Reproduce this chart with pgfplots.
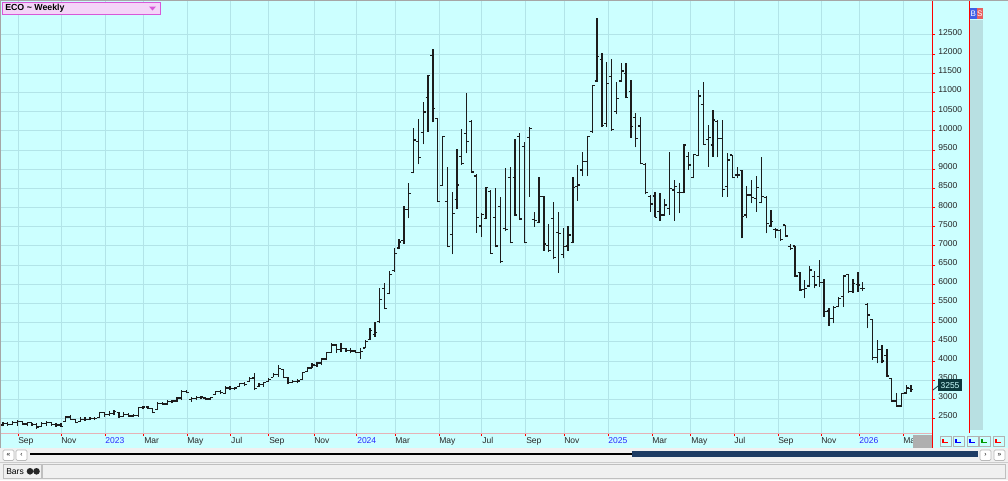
\documentclass[border=0pt]{standalone}
\usepackage{fontspec}
\setmainfont{Liberation Sans}
\usepackage{pgfplots}
\pgfplotsset{compat=1.18}
\usepackage{pgfplotstable}
\definecolor{bgcyan}{RGB}{204,255,255}
\definecolor{gridc}{RGB}{178,228,232}
\definecolor{barcol}{RGB}{28,28,28}
\definecolor{pinkl}{RGB}{230,178,182}
\definecolor{yearblue}{RGB}{40,40,255}
\definecolor{winbg}{RGB}{240,240,240}
\definecolor{stripc}{RGB}{184,224,226}
\definecolor{ecofill}{RGB}{244,212,248}
\definecolor{ecoborder}{RGB}{216,88,216}
\definecolor{bblue}{RGB}{64,96,230}
\definecolor{sred}{RGB}{232,96,96}
\definecolor{darkteal}{RGB}{12,56,60}
\definecolor{thumbc}{RGB}{30,60,100}
\pgfdeclareplotmark{openl}{\pgfpathmoveto{\pgfqpoint{-\pgfplotmarksize}{0pt}}\pgfpathlineto{\pgfqpoint{0pt}{0pt}}\pgfusepathqstroke}
\pgfdeclareplotmark{closer}{\pgfpathmoveto{\pgfqpoint{0pt}{0pt}}\pgfpathlineto{\pgfqpoint{\pgfplotmarksize}{0pt}}\pgfusepathqstroke}
\pgfplotstableread{
t o h l c
0 2330 2417 2295 2380
1 2380 2417 2313 2340
2 2340 2434 2330 2400
3 2400 2452 2313 2420
4 2420 2443 2330 2360
5 2360 2417 2295 2390
6 2390 2391 2304 2340
7 2340 2374 2226 2280
8 2300 2417 2295 2380
9 2380 2434 2313 2400
10 2400 2417 2313 2340
11 2340 2374 2287 2330
12 2330 2374 2287 2300
13 2420 2565 2417 2540
14 2540 2591 2461 2470
15 2470 2487 2374 2400
16 2420 2539 2417 2480
17 2480 2530 2443 2470
18 2470 2539 2452 2500
19 2500 2548 2461 2510
20 2520 2678 2504 2650
21 2650 2678 2548 2600
22 2600 2696 2574 2640
23 2640 2722 2591 2680
24 2660 2661 2522 2560
25 2560 2661 2548 2600
26 2600 2635 2548 2570
27 2570 2609 2539 2580
28 2580 2809 2548 2780
29 2780 2835 2748 2800
30 2800 2835 2748 2770
31 2760 2765 2635 2660
32 2730 2939 2722 2900
33 2900 2939 2852 2880
34 2880 2983 2852 2950
35 2950 2983 2896 2960
36 2960 3070 2939 3040
37 3040 3244 2983 3200
38 3200 3244 3157 3180
39 3000 3070 2939 3030
40 3030 3087 2983 3050
41 3050 3087 3000 3060
42 3040 3052 2983 3010
43 3010 3070 2983 3050
44 3130 3226 3113 3200
45 3200 3244 3139 3180
46 3150 3348 3139 3300
47 3300 3348 3244 3280
48 3280 3330 3244 3300
49 3340 3435 3330 3420
50 3420 3461 3348 3380
51 3470 3574 3461 3550
52 3560 3679 3244 3280
53 3340 3418 3330 3380
54 3380 3461 3330 3440
55 3470 3548 3461 3520
56 3580 3679 3574 3650
57 3650 3896 3592 3800
58 3780 3783 3548 3580
59 3580 3592 3400 3440
60 3440 3505 3418 3470
61 3460 3522 3418 3480
62 3510 3722 3505 3700
63 3730 3853 3722 3820
64 3820 3940 3809 3900
65 3880 3983 3853 3950
66 3950 4070 3896 4050
67 4050 4244 4027 4220
68 4230 4462 4218 4420
69 4420 4444 4218 4300
70 4300 4462 4244 4320
71 4320 4331 4244 4280
72 4280 4331 4200 4260
73 4260 4288 4200 4230
74 4230 4331 4044 4250
75 4340 4549 4331 4500
76 4560 4850 4549 4800
77 4700 5027 4636 4750
78 5027 5896 5000 5609
79 5896 6026 5348 5374
80 5766 6348 5740 6261
81 6360 6939 6330 6800
82 6950 7173 6913 7100
83 7150 8042 7052 7950
84 7950 8650 7721 8370
85 8920 10067 8894 9763
86 9720 10310 9129 9311
87 9954 10762 9650 10493
88 10875 11466 9980 11449
89 11962 12135 10224 10589
90 10320 10330 8138 8155
91 8580 9867 8564 9850
92 8155 9068 6965 6980
93 7303 8399 6782 7851
94 8216 9537 7955 8590
95 9329 10041 9111 9155
96 9937 10997 9415 9720
97 10250 10284 8911 8930
98 8824 8868 7347 7738
99 7520 7851 7243 7820
100 7720 8546 7695 8529
101 8416 8459 6791 6808
102 7738 8503 6965 7000
103 8024 8268 6547 6600
104 7460 9024 7380 7420
105 8781 9050 7069 7086
106 8781 9780 7781 7807
107 9850 9937 7677 7700
108 9589 9720 7069 7086
109 9823 10093 8286 10060
110 7695 7894 7503 7660
111 7610 8790 7590 8286
112 8286 8300 6878 7051
113 7008 7573 6852 6890
114 7720 8155 6652 6700
115 7347 7894 6304 7330
116 6782 7460 6678 6982
117 7000 7529 6878 7286
118 7095 8807 7069 8529
119 8546 9111 8181 8590
120 8980 9459 8824 9198
121 9198 9867 8824 9850
122 9980 11197 9954 11179
123 11300 12935 11284 11935
124 11866 12040 10111 10150
125 10200 11805 10111 11240
126 11414 11866 10006 10030
127 10502 11284 10432 10849
128 11301 11762 11284 11562
129 11501 11762 10849 10866
130 11023 11327 9824 10111
131 10354 10458 9572 9806
132 10128 10354 9129 9150
133 9120 9150 8347 8400
134 8286 8321 7895 8095
135 8300 8416 7747 7750
136 7900 8373 7652 7808
137 7808 8216 7782 8069
138 7982 9459 7808 8503
139 8460 8720 7660 8546
140 8390 8633 7852 8390
141 8390 9650 8373 9630
142 9328 9459 8981 9111
143 8790 9398 8764 9380
144 9360 11066 9346 10910
145 10693 11284 9633 9650
146 9780 10154 9068 9824
147 9633 10545 9328 10284
148 10241 10284 9311 9807
149 9807 10284 8286 8477
150 8547 9415 8286 9242
151 9372 9380 8764 8790
152 8851 9050 8764 8851
153 8964 8970 7200 7764
154 7808 8564 7721 8329
155 8329 8720 8112 8268
156 8242 8824 7895 8529
157 8129 9311 8112 8286
158 8268 8303 7330 7591
159 7521 7938 7504 7634
160 7434 7460 7200 7417
161 7400 7434 7139 7174
162 7547 7550 7243 7261
163 6982 7052 6896 6939
164 7000 7010 6200 6218
165 6305 6331 5835 5853
166 5870 6113 5635 5896
167 5957 6478 5940 6374
168 6200 6357 5896 5983
169 6200 6635 5940 6050
170 6040 6131 5157 5300
171 5305 5374 4914 5114
172 5114 5435 4983 5400
173 5418 5678 5400 5635
174 5678 6243 5418 6217
175 6261 6270 5783 5809
176 5809 6130 5783 6026
177 6000 6330 5809 5983
178 5896 6070 5835 5896
179 5480 5505 4853 5200
180 5088 5096 4027 4100
181 4100 4549 3940 4300
182 4300 4418 3940 4000
183 4150 4305 3593 3610
184 3549 3560 2941 2960
185 2960 3175 2810 2830
186 2830 3175 2810 3150
187 3170 3375 3150 3300
188 3280 3375 3202 3255
}\ohlc
\begin{document}
\begin{tikzpicture}
\useasboundingbox (0,0) rectangle (756pt,-360pt);
\begin{scope}[x=0.75pt,y=-0.75pt]
 \fill[winbg] (0,0) rectangle (1008,480);
 \fill[bgcyan] (0,0) rectangle (1008,448);
 \fill[stripc] (970,20) rectangle (983,430);
\end{scope}
\begin{axis}[
  at={(0pt,0pt)}, anchor=north west,
  scale only axis, width=699pt, height=324.75pt,
  xmin=-0.621, xmax=192.34, ymin=2124, ymax=13412,
  axis line style={draw=none},
  grid=major, grid style={gridc, line width=0.75pt},
  xtick={3.11,12.01,21.12,29.19,38.10,47.20,55.07,64.39,73.29,81.16,90.27,99.17,108.28,116.15,125.26,134.37,142.44,151.35,160.46,169.36,177.23,186.34},
  xticklabels={Sep,Nov,\textcolor{yearblue}{2023},Mar,May,Jul,Sep,Nov,\textcolor{yearblue}{2024},Mar,May,Jul,Sep,Nov,\textcolor{yearblue}{2025},Mar,May,Jul,Sep,Nov,\textcolor{yearblue}{2026},Mar},
  ytick={2500,3000,...,12500},
  xtick pos=left, ytick pos=right, yticklabel pos=right,
  tick align=outside, major tick length=2.6pt,
  tick style={red, line width=0.75pt},
  ticklabel style={font=\fontsize{6.4}{7}\selectfont, text=black!85},
  xticklabel style={anchor=north west, inner sep=0pt, xshift=0pt, yshift=-0.6pt},
  yticklabel style={anchor=west, inner sep=0pt, xshift=2pt, yshift=1.9pt},
  /pgf/number format/assume math mode=true,
  /pgf/number format/set thousands separator={},
  scaled y ticks=false,
]
\addplot[draw=none, mark=none, forget plot,
  error bars/.cd, y dir=plus, y explicit, error mark=none,
  error bar style={draw=barcol, line width=0.95pt}]
  table[x=t, y=l, y error expr=\thisrow{h}-\thisrow{l}] {\ohlc};
\addplot[only marks, mark=openl, mark size=1.8pt, mark options={barcol, line width=0.95pt}]
  table[x=t, y=o] {\ohlc};
\addplot[only marks, mark=closer, mark size=1.8pt, mark options={barcol, line width=0.95pt}]
  table[x=t, y=c] {\ohlc};
\end{axis}
\begin{scope}[x=0.75pt,y=-0.75pt]
 % frame lines
 \draw[pinkl, line width=1.1pt] (0,433.5) -- (932,433.5);
 \draw[red, line width=0.9pt] (932.3,0) -- (932.3,448);
 \draw[red, line width=0.9pt] (969.3,0) -- (969.3,433);
 \draw[gray!70, line width=0.75pt] (0,0.5) -- (1008,0.5);
 \draw[gray!70, line width=0.75pt] (0.5,0) -- (0.5,448);
 \fill[gray!95!black!60] (913,434.5) rectangle (932,447.5);
 % title box
 \draw[fill=ecofill, draw=ecoborder, line width=0.75pt] (2.5,2.5) rectangle (160,14);
 \node[anchor=west, inner sep=0pt, font=\fontsize{6.6}{7}\selectfont\bfseries] at (5,8.3) {ECO \char"007E\ Weekly};
 \fill[ecoborder] (149,6.5) -- (156,6.5) -- (152.5,10.5) -- cycle;
 % B S
 \fill[bblue] (970,8) rectangle (976.5,19);
 \fill[sred] (976.5,8) rectangle (983,19);
 \node[white, inner sep=0pt, font=\fontsize{6}{6}\selectfont] at (973.2,13.5) {B};
 \node[white, inner sep=0pt, font=\fontsize{6}{6}\selectfont] at (979.8,13.5) {S};
 % last price label
 \draw[darkteal, line width=0.6pt] (933,390) -- (938,386);
 \fill[darkteal] (938,379) rectangle (962,391);
 \node[text=bgcyan, inner sep=0pt, font=\fontsize{6.4}{7}\selectfont] at (950,385.3) {3255};
 % small buttons right of date band
 \foreach \xa/\col in {940/red,953/blue,967/blue,979/green!60!black,993/red}{
   \draw[fill=bgcyan, draw=gray!60, line width=0.5pt] (\xa,436) rectangle ({\xa+11},446.5);
   \draw[\col, line width=0.8pt] ({\xa+3},439) -- ({\xa+3},442.5) -- ({\xa+8},442.5);
 }
 % scrollbar
 \foreach \xa/\g in {3/{\guillemotleft},16/{\guilsinglleft}}{
   \draw[fill=white, draw=gray!55, line width=0.5pt, rounded corners=1pt] (\xa,450) rectangle ({\xa+11},460.5);
   \node[inner sep=0pt, font=\fontsize{5}{5}\selectfont] at ({\xa+5.5},455) {\g};
 }
 \foreach \xa/\g in {980/{\guilsinglright},994/{\guillemotright}}{
   \draw[fill=white, draw=gray!55, line width=0.5pt, rounded corners=1pt] (\xa,450) rectangle ({\xa+11},460.5);
   \node[inner sep=0pt, font=\fontsize{5}{5}\selectfont] at ({\xa+5.5},455) {\g};
 }
 \draw[black, line width=1.6pt] (30,454) -- (632,454);
 \fill[thumbc] (631.7,451) rectangle (978,456.7);
 % status bar
 \draw[gray!40, line width=0.6pt] (0,462.5) -- (1008,462.5);
 \draw[fill=winbg, draw=gray!50, line width=0.6pt] (42,464.5) rectangle (1005,478);
 \draw[fill=winbg, draw=gray!50, line width=0.6pt] (3,464.5) rectangle (41,478);
 \node[anchor=west, inner sep=0pt, font=\fontsize{6.4}{7}\selectfont] at (6,471.5) {Bars};
 \fill[black!85] (30,471.3) circle (3.3);
 \fill[black!85] (36.5,471.3) circle (3.3);
\end{scope}
\end{tikzpicture}
\end{document}
